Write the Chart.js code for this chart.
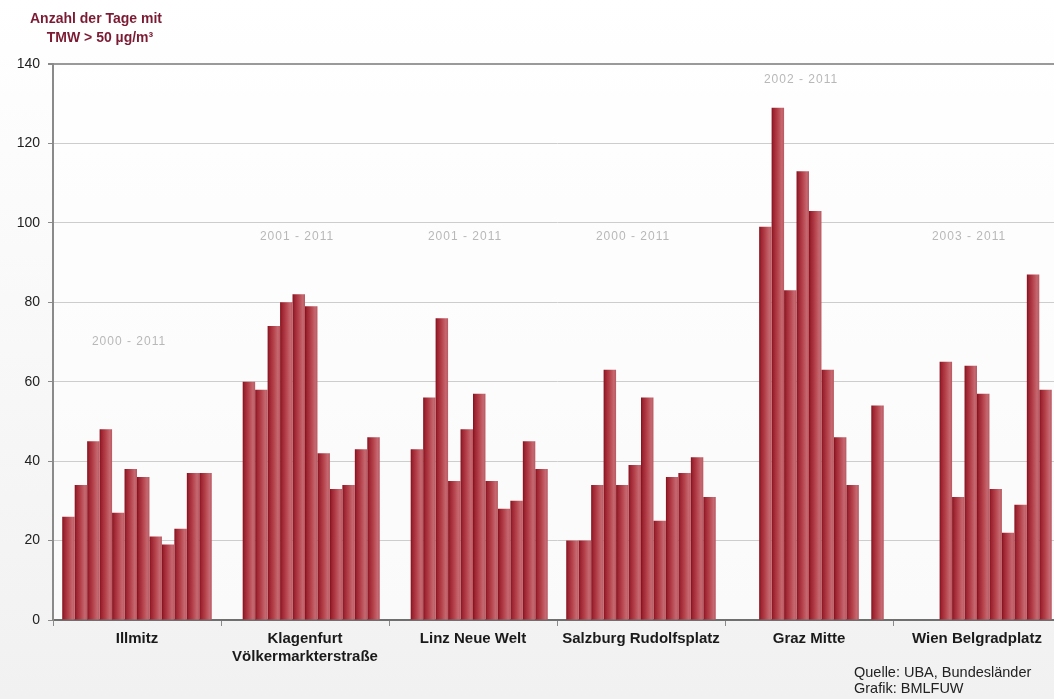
<!DOCTYPE html>
<html><head><meta charset="utf-8">
<script src="https://cdn.jsdelivr.net/npm/chart.js@4.4.1/dist/chart.umd.min.js"></script>
<style>
html,body{margin:0;padding:0;overflow:hidden;width:1054px;height:699px;background:#fff}
#wrap{position:absolute;left:0;top:0;width:1061px;height:699px}
</style></head>
<body><div id="wrap"><canvas id="c" width="1061" height="699"></canvas></div>
<script>
// ---- data ----
const years = ['2000','2001','2002','2003','2004','2005','2006','2007','2008','2009','2010','2011'];
const stations = ['Illmitz', ['Klagenfurt', 'Völkermarkterstraße'], 'Linz Neue Welt', 'Salzburg Rudolfsplatz', 'Graz Mitte', 'Wien Belgradplatz'];
const illmitz    = [26, 34, 45, 48, 27, 38, 36, 21, 19, 23, 37, 37];
const klagenfurt = [null, 60, 58, 74, 80, 82, 79, 42, 33, 34, 43, 46];
const linz       = [null, 43, 56, 76, 35, 48, 57, 35, 28, 30, 45, 38];
const salzburg   = [20, 20, 34, 63, 34, 39, 56, 25, 36, 37, 41, 31];
const graz       = [null, null, 99, 129, 83, 113, 103, 63, 46, 34, null, 54];
const wien       = [null, null, null, 65, 31, 64, 57, 33, 22, 29, 87, 58];
const periods = ['2000 - 2011', '2001 - 2011', '2001 - 2011', '2000 - 2011', '2002 - 2011', '2003 - 2011'];
const periodLabelValue = [70, 96.5, 96.5, 96.5, 136, 96.5];
const yTicks = [0, 20, 40, 60, 80, 100, 120, 140];
const titleLines = ['Anzahl der Tage mit', 'TMW > 50 µg/m³'];
const sourceLines = ['Quelle: UBA, Bundesländer', 'Grafik: BMLFUW'];

// ---- build ----
const stationValues = [illmitz, klagenfurt, linz, salzburg, graz, wien];
const CAT_PCT = 0.89;
const FONT = "'Liberation Sans', Arial, sans-serif";

function barGradient(ctx) {
  const chart = ctx.chart;
  const xs = chart.scales && chart.scales.x;
  if (!chart.chartArea || !xs || ctx.type !== 'data') return '#b03a44';
  const cw = (xs.right - xs.left) / stations.length;
  const slot = cw * CAT_PCT / years.length;
  const left = xs.getPixelForValue(ctx.dataIndex) - cw * CAT_PCT / 2 + ctx.datasetIndex * slot;
  const g = chart.ctx.createLinearGradient(left, 0, left + slot, 0);
  g.addColorStop(0, '#82101a');
  g.addColorStop(0.14, '#9c2230');
  g.addColorStop(0.5, '#b6444d');
  g.addColorStop(0.82, '#c66870');
  g.addColorStop(1, '#b9575f');
  return g;
}

const datasets = years.map((yr, i) => ({
  label: yr,
  data: stationValues.map(a => a[i]),
  backgroundColor: barGradient,
  borderWidth: 0,
  categoryPercentage: CAT_PCT,
  barPercentage: 1.0
}));

const decor = {
  id: 'decor',
  beforeDraw(chart) {
    const c = chart.ctx;
    c.save();
    const g = c.createLinearGradient(0, 0, 0, chart.height);
    g.addColorStop(0, '#ffffff');
    g.addColorStop(1, '#f1f1f1');
    c.fillStyle = g;
    c.fillRect(0, 0, chart.width, chart.height);
    const a = chart.chartArea;
    c.fillStyle = 'rgba(255,255,255,0.6)';
    c.fillRect(a.left, a.top, a.right - a.left, a.bottom - a.top);
    c.restore();
  },
  afterDraw(chart) {
    const c = chart.ctx;
    const xs = chart.scales.x, ys = chart.scales.y;
    c.save();
    c.font = '12px ' + FONT;
    c.fillStyle = '#b8b8b8';
    c.textAlign = 'center';
    c.textBaseline = 'middle';
    try { c.letterSpacing = '1px'; } catch (e) {}
    periods.forEach((t, i) => {
      c.fillText(t, xs.getPixelForValue(i) - 8, ys.getPixelForValue(periodLabelValue[i]));
    });
    try { c.letterSpacing = '0px'; } catch (e) {}
    c.font = 'bold 14px ' + FONT;
    c.fillStyle = '#7b1a32';
    c.fillText(titleLines[0], 96, 19);
    c.fillText(titleLines[1], 100, 38);
    c.font = '14.5px ' + FONT;
    c.fillStyle = '#222';
    c.textAlign = 'left';
    c.fillText(sourceLines[0], 854, 673);
    c.fillText(sourceLines[1], 854, 689);
    c.restore();
  }
};

new Chart(document.getElementById('c'), {
  type: 'bar',
  data: { labels: stations, datasets },
  plugins: [decor],
  options: {
    responsive: false,
    animation: false,
    devicePixelRatio: 1,
    layout: { padding: { top: 64, right: 0, left: 0, bottom: 0 } },
    plugins: { legend: { display: false }, tooltip: { enabled: false }, title: { display: false } },
    scales: {
      x: {
        grid: { display: true, drawOnChartArea: false, tickLength: 6, color: '#8a8a8a', offset: true },
        border: { color: '#6f6f6f', width: 2 },
        ticks: {
          font: { family: FONT, size: 15, weight: 'bold', lineHeight: 1.25 },
          color: '#1a1a1a', padding: 3, maxRotation: 0, autoSkip: false
        },
        afterFit(s) { s.height = 79; }
      },
      y: {
        min: 0, max: 140,
        afterBuildTicks(s) { s.ticks = yTicks.map(v => ({ value: v })); },
        ticks: { font: { family: FONT, size: 14 }, color: '#222', padding: 8 },
        grid: {
          color: ctx => (ctx.tick && ctx.tick.value === 140) ? '#9a9a9a' : '#cdcdcd',
          lineWidth: ctx => (ctx.tick && ctx.tick.value === 140) ? 2 : 1,
          tickLength: 5, tickColor: '#8a8a8a'
        },
        border: { color: '#8a8a8a', width: 2 },
        afterFit(s) { s.width = 53; }
      }
    }
  }
});
</script>
</body></html>
